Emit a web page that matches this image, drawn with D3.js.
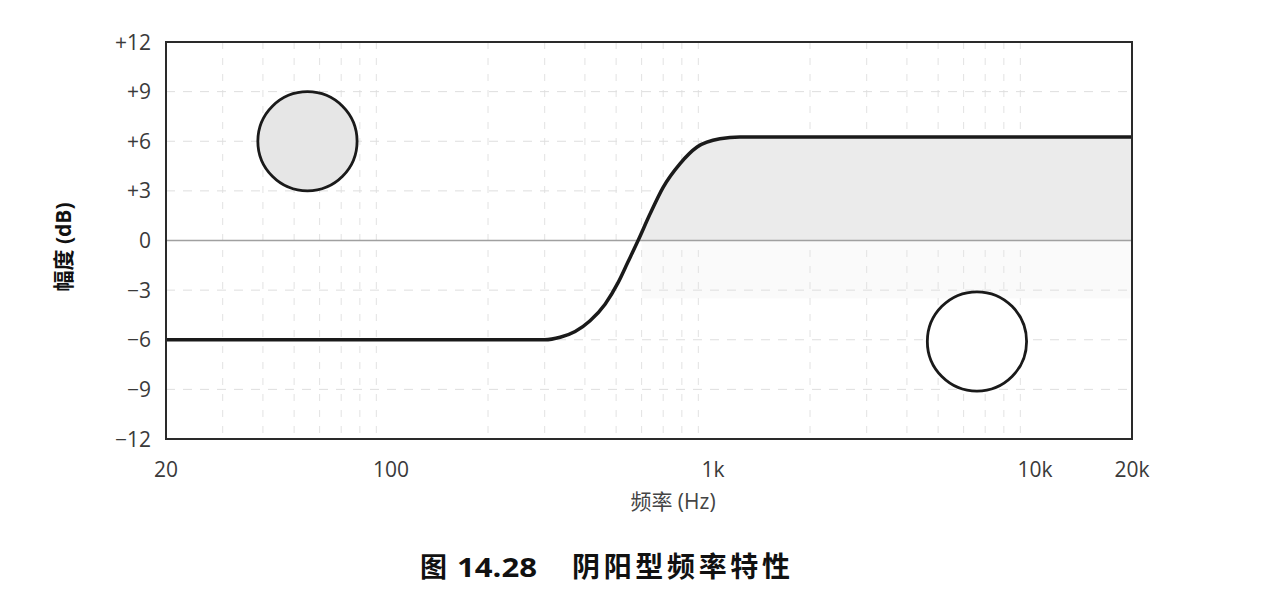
<!DOCTYPE html>
<html><head><meta charset="utf-8">
<script src="https://cdn.jsdelivr.net/npm/d3@7"></script>
<style>
body{margin:0;background:#fff;}
svg text{font-family:"Open Sans","Noto Sans","Noto Sans CJK SC",sans-serif;}
</style></head>
<body><svg id="c" width="1266" height="609"></svg>
<script>
// Data
const freq = [20, 100, 200, 300, 335, 373, 415, 462, 507, 544, 585, 637, 699, 790, 892, 1050, 1212, 2000, 5000, 10000, 20000];
const gain = [-6, -6, -6, -6, -5.85, -5.5, -4.85, -3.85, -2.55, -1.3, 0, 1.6, 3.2, 4.65, 5.65, 6.15, 6.25, 6.25, 6.25, 6.25, 6.25];
const xTicks = [20, 100, 1000, 10000, 20000];
const xTickLabels = ["20", "100", "1k", "10k", "20k"];
const yTicks = [12, 9, 6, 3, 0, -3, -6, -9, -12];
const yTickLabels = ["+12", "+9", "+6", "+3", "0", "\u22123", "\u22126", "\u22129", "\u221212"];
const gridFreqs = [30,40,50,60,70,80,90,200,300,400,500,600,700,800,900,2000,3000,4000,5000,6000,7000,8000,9000];
const gridDb = [9, 6, 3, -3, -6, -9];
const circles = [ {f: 55, db: 6, r: 3, fill: "#e6e6e6"}, {f: 6600, db: -6.1, r: 3, fill: "#ffffff"} ];
const lowerBand = {f0: 600, f1: 20000, db0: 0, db1: -3.5};

const svg = d3.select("#c");
const L = 166, R = 1132, T = 42, B = 439;
const x = d3.scaleLog().domain([20, 20000]).range([L, R]);
const y = d3.scaleLinear().domain([-12, 12]).range([B, T]);

// faint lower band
svg.append("rect").attr("x", x(lowerBand.f0)).attr("y", y(lowerBand.db0))
  .attr("width", x(lowerBand.f1) - x(lowerBand.f0)).attr("height", y(lowerBand.db1) - y(lowerBand.db0))
  .attr("fill", "#fafafa");

// grid
svg.append("g").selectAll("line").data(gridFreqs).join("line")
  .attr("x1", d => x(d)).attr("x2", d => x(d)).attr("y1", T).attr("y2", B)
  .attr("stroke", "#e2e2e2").attr("stroke-width", 1).attr("stroke-dasharray", "7,9");
svg.append("g").selectAll("line").data(gridDb).join("line")
  .attr("x1", L).attr("x2", R).attr("y1", d => y(d)).attr("y2", d => y(d))
  .attr("stroke", "#dedede").attr("stroke-width", 1).attr("stroke-dasharray", "9,8");

// fill above zero under curve
const pts = freq.map((f, i) => ({f, g: gain[i]}));
const area = d3.area().x(d => x(d.f)).y0(y(0)).y1(d => y(Math.max(0, d.g))).curve(d3.curveMonotoneX);
svg.append("path").datum(pts.filter(d => d.g >= 0)).attr("d", area).attr("fill", "#ebebeb");

// zero line
svg.append("line").attr("x1", L).attr("x2", R).attr("y1", y(0)).attr("y2", y(0))
  .attr("stroke", "#a0a0a0").attr("stroke-width", 1.5);

// curve
const line = d3.line().x(d => x(d.f)).y(d => y(d.g)).curve(d3.curveMonotoneX);
svg.append("path").datum(pts).attr("d", line).attr("fill", "none")
  .attr("stroke", "#1a1a1a").attr("stroke-width", 3.5);

// circles
svg.append("g").selectAll("circle").data(circles).join("circle")
  .attr("cx", d => x(d.f)).attr("cy", d => y(d.db))
  .attr("r", d => y(0) - y(d.r)).attr("fill", d => d.fill)
  .attr("stroke", "#1a1a1a").attr("stroke-width", 2.8);

// frame
svg.append("rect").attr("x", L).attr("y", T).attr("width", R - L).attr("height", B - T)
  .attr("fill", "none").attr("stroke", "#2a2a2a").attr("stroke-width", 2);

// y tick labels
svg.append("g").selectAll("text").data(yTicks).join("text")
  .attr("x", 151).attr("y", d => y(d)).attr("dy", "0.36em").attr("text-anchor", "end")
  .attr("font-size", 21).attr("fill", "#3a3a3a").text((d, i) => yTickLabels[i]);

// x tick labels
svg.append("g").selectAll("text").data(xTicks).join("text")
  .attr("x", d => x(d)).attr("y", 477).attr("text-anchor", "middle")
  .attr("font-size", 21).attr("fill", "#3a3a3a").text((d, i) => xTickLabels[i]);

// axis titles
svg.append("text").attr("transform", "translate(71,247) rotate(-90)").attr("text-anchor", "middle")
  .attr("font-size", 21).attr("fill", "#111").attr("font-weight", "bold").text("幅度 (dB)");
svg.append("text").attr("x", 673).attr("y", 509).attr("text-anchor", "middle")
  .attr("font-size", 21).attr("fill", "#444").text("频率 (Hz)");

// caption
svg.append("text").attr("x", 420).attr("y", 577).attr("font-size", 27).attr("font-weight", "bold")
  .attr("fill", "#111").attr("font-family", "'Noto Sans CJK SC',sans-serif").text("图");
svg.append("text").attr("x", 457).attr("y", 577).attr("font-size", 27).attr("font-weight", "bold")
  .attr("fill", "#111").attr("font-family", "'Noto Sans CJK SC',sans-serif")
  .attr("textLength", 80).attr("lengthAdjust", "spacingAndGlyphs").text("14.28");
svg.append("text").attr("x", 572).attr("y", 577).attr("font-size", 28).attr("font-weight", "bold")
  .attr("fill", "#111").attr("font-family", "'Noto Sans CJK SC',sans-serif")
  .attr("textLength", 218).attr("lengthAdjust", "spacing").text("阴阳型频率特性");
</script></body></html>
